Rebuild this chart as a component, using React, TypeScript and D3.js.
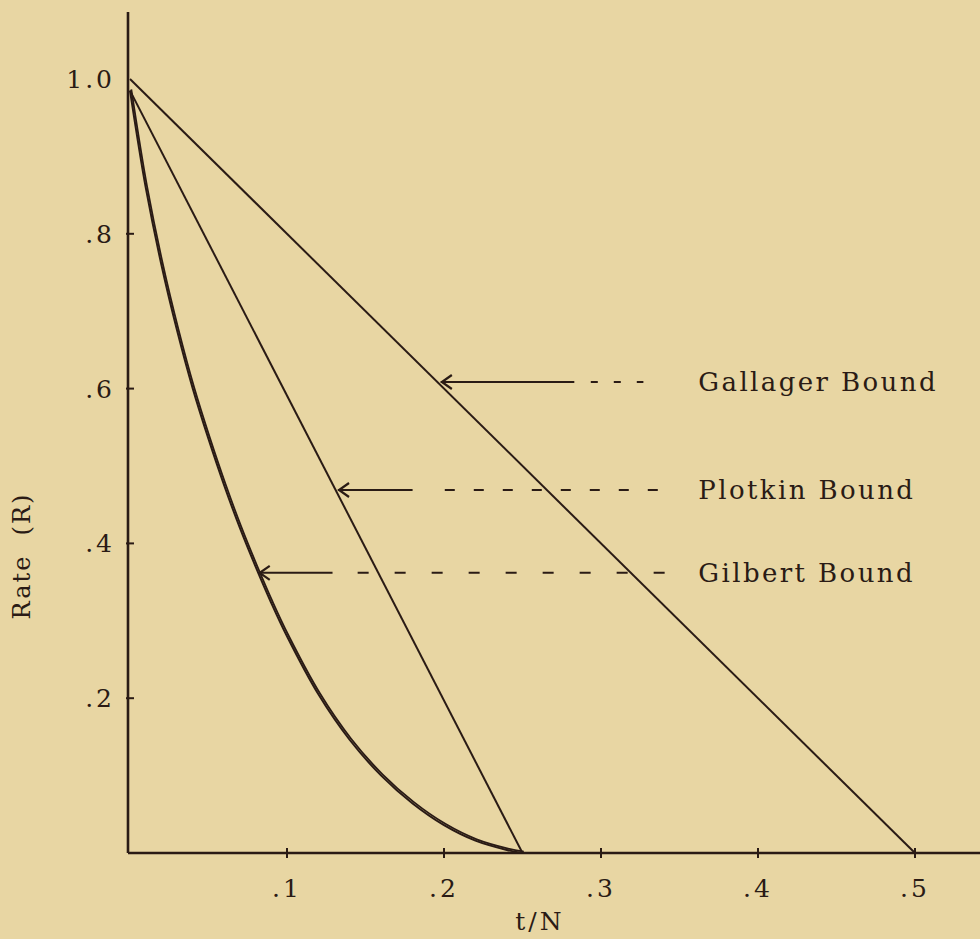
import * as d3 from "d3";

// values
const xTicks = [0.1, 0.2, 0.3, 0.4, 0.5];
const xTickLabels = [".1", ".2", ".3", ".4", ".5"];
const yTicks = [0.2, 0.4, 0.6, 0.8, 1.0];
const yTickLabels = [".2", ".4", ".6", ".8", "1.0"];

const gallager = [
  { t: 0, r: 1.0 },
  { t: 0.5, r: 0 },
];
const plotkin = [
  { t: 0, r: 0.985 },
  { t: 0.25, r: 0 },
];
const gilbertT = [0, 0.005, 0.01, 0.02, 0.03, 0.04, 0.05, 0.06, 0.07, 0.08, 0.09, 0.1, 0.12, 0.14, 0.16, 0.18, 0.2, 0.22, 0.24, 0.25];
const gilbertR = [0.985, 0.92, 0.86, 0.76, 0.675, 0.6, 0.535, 0.475, 0.42, 0.37, 0.323, 0.28, 0.205, 0.146, 0.1, 0.064, 0.036, 0.016, 0.004, 0];

// annotation arrows: tip, end of solid part, dashed part, label
const labels = ["Gallager Bound", "Plotkin Bound", "Gilbert Bound"];
const arrowR = [0.6085, 0.469, 0.362];
const arrowTip = [0.198, 0.1325, 0.082];
const solidEnd = [0.283, 0.18, 0.129];
const dashStart = [0.2935, 0.2005, 0.145];
const dashEnd = [0.327, 0.345, 0.348];
const dashPattern = ["7 16", "10 19", "11 26"];
const labelT = 0.362;

const W = 980;
const H = 939;
const ink = "#2a1b15";
const paper = "#e8d6a3";
const font = "'DejaVu Serif', serif";

export default function App() {
  const x = d3.scaleLinear().domain([0, 0.5]).range([130, 915]);
  const y = d3.scaleLinear().domain([0, 1]).range([853, 79]);

  const line = d3
    .line<{ t: number; r: number }>()
    .x((d) => x(d.t))
    .y((d) => y(d.r));

  const gilbert = gilbertT.map((t, i) => ({ t, r: gilbertR[i] }));
  const curve = d3
    .line<{ t: number; r: number }>()
    .x((d) => x(d.t))
    .y((d) => y(d.r))
    .curve(d3.curveCatmullRom);

  const axisX = x(0) - 2;

  return (
    <svg
      width={W}
      height={H}
      style={{ position: "absolute", left: 0, top: 0, background: paper }}
    >
      <rect width={W} height={H} fill={paper} />

      {/* axes */}
      <line x1={axisX} x2={axisX} y1={12} y2={y(0)} stroke={ink} strokeWidth={2.6} />
      <line x1={axisX} x2={W} y1={y(0)} y2={y(0)} stroke={ink} strokeWidth={2.6} />

      {xTicks.map((t, i) => (
        <g key={"x" + i}>
          <line x1={x(t)} x2={x(t)} y1={y(0) - 5} y2={y(0) + 5} stroke={ink} strokeWidth={2} />
          <text
            x={x(t)}
            y={897}
            textAnchor="middle"
            fontFamily={font}
            fontSize={25}
            letterSpacing={3}
            fill={ink}
          >
            {xTickLabels[i]}
          </text>
        </g>
      ))}

      {yTicks.map((r, i) => (
        <g key={"y" + i}>
          {r < 1 && (
            <line x1={axisX - 2} x2={axisX + 6} y1={y(r)} y2={y(r)} stroke={ink} strokeWidth={2} />
          )}
          <text
            x={115}
            y={y(r)}
            dy="0.36em"
            textAnchor="end"
            fontFamily={font}
            fontSize={25}
            letterSpacing={3}
            fill={ink}
          >
            {yTickLabels[i]}
          </text>
        </g>
      ))}

      <text
        x={540}
        y={930}
        textAnchor="middle"
        fontFamily={font}
        fontSize={25}
        letterSpacing={3}
        fill={ink}
      >
        t/N
      </text>
      <text
        transform="translate(30,556) rotate(-90)"
        textAnchor="middle"
        fontFamily={font}
        fontSize={24}
        letterSpacing={2}
        fill={ink}
        style={{ whiteSpace: "pre" }}
      >
        {"Rate  (R)"}
      </text>

      {/* bounds */}
      <path d={line(gallager) ?? ""} fill="none" stroke={ink} strokeWidth={2} />
      <path d={line(plotkin) ?? ""} fill="none" stroke={ink} strokeWidth={2} />
      <path d={curve(gilbert) ?? ""} fill="none" stroke={ink} strokeWidth={2} />
      <path
        d={curve(gilbert) ?? ""}
        fill="none"
        stroke={ink}
        strokeWidth={1.8}
        transform="translate(1.3,-1.3)"
      />

      {/* annotations */}
      {labels.map((name, i) => {
        const ay = y(arrowR[i]);
        const tx = x(arrowTip[i]);
        return (
          <g key={name}>
            <line x1={tx} x2={x(solidEnd[i])} y1={ay} y2={ay} stroke={ink} strokeWidth={2} />
            <path
              d={`M${tx + 11},${ay - 7} L${tx + 1},${ay} L${tx + 11},${ay + 7}`}
              fill="none"
              stroke={ink}
              strokeWidth={2.2}
            />
            <line
              x1={x(dashStart[i])}
              x2={x(dashEnd[i])}
              y1={ay}
              y2={ay}
              stroke={ink}
              strokeWidth={2}
              strokeDasharray={dashPattern[i]}
            />
            <text
              x={x(labelT)}
              y={ay + 9}
              fontFamily={font}
              fontSize={26}
              letterSpacing={2.4}
              fill={ink}
            >
              {name}
            </text>
          </g>
        );
      })}
    </svg>
  );
}
